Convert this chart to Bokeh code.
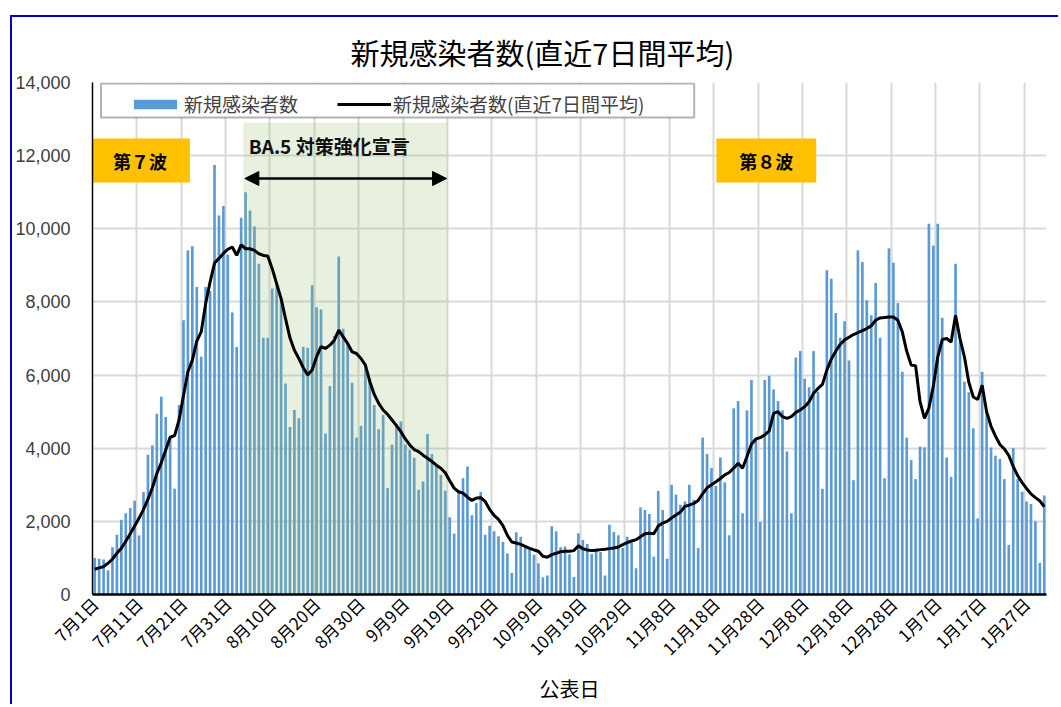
import math
from bokeh.plotting import figure
from bokeh.models import (ColumnDataSource, Range1d, FixedTicker, NumeralTickFormatter,
                          Legend, LegendItem, BoxAnnotation, Arrow, NormalHead)
from bokeh.core.properties import value
from bokeh.embed import file_html
from bokeh.resources import INLINE

JP = "Noto Sans CJK JP"

# daily new cases, 2022-07-01 .. 2023-01-31
cases = [1000, 980, 955, 665, 1290, 1635, 2045, 2225, 2365, 2565,
         1610, 2800, 3820, 4075, 4945, 5410, 4855, 4300, 2890, 5180,
         7500, 9410, 9520, 8410, 6500, 8410, 8300, 11745, 10365, 10620,
         9300, 7710, 6770, 10300, 11000, 10500, 10065, 9045, 7020, 7020,
         8365, 8500, 7970, 5770, 4580, 5045, 4820, 6770, 6745, 8455,
         7855, 7790, 4400, 5700, 7065, 9245, 7270, 6900, 5790, 4290,
         4610, 6300, 5900, 5180, 4520, 4910, 2910, 4100, 4650, 4730,
         4100, 3950, 3740, 2865, 3090, 4390, 3845, 3565, 3270, 2835,
         2110, 1670, 2800, 3180, 3500, 2170, 2500, 2800, 1635, 1880,
         1730, 1590, 1435, 1120, 590, 1700, 1580, 1290, 1230, 1090,
         855, 475, 520, 1865, 1730, 1290, 1310, 1100, 480, 1675,
         1490, 1380, 1110, 1255, 1165, 520, 1910, 1710, 1620, 1270,
         1580, 1410, 720, 2380, 2310, 2200, 1035, 2835, 2310, 980,
         3000, 2730, 2455, 2545, 3000, 2590, 1270, 4290, 3845, 3455,
         2970, 3745, 3065, 1620, 5090, 5290, 2220, 5035, 5865, 4270,
         1980, 5865, 5980, 5610, 5290, 5035, 3910, 2220, 6480, 6655,
         5900, 5670, 6655, 5545, 2890, 8865, 8635, 7700, 7020, 7470,
         6400, 3125, 9410, 9090, 8045, 7635, 8520, 7020, 3180, 9470,
         9070, 7970, 6090, 4290, 3680, 3155, 4045, 4025, 10135, 9545,
         10135, 7565, 3745, 3220, 9045, 6910, 5820, 5530, 4545, 2080,
         6090, 5000, 4020, 3795, 3705, 3155, 1355, 4010, 3150, 2810,
         2545, 2475, 2000, 860, 2710]

# 7-day average
avg7 = [690, 727, 763, 854, 972, 1127, 1263, 1454, 1663, 1872,
        2090, 2327, 2609, 2918, 3309, 3600, 3954, 4300, 4345, 4772,
        5436, 6090, 6409, 6927, 7181, 7954, 8545, 9063, 9190, 9327,
        9440, 9500, 9272, 9560, 9454, 9454, 9409, 9318, 9272, 9254,
        8909, 8500, 8090, 7545, 7018, 6681, 6454, 6200, 6000, 6136,
        6500, 6781, 6727, 6818, 6954, 7227, 7045, 6863, 6636, 6590,
        6454, 6272, 5818, 5472, 5227, 5045, 4927, 4772, 4618, 4454,
        4254, 4090, 3963, 3909, 3809, 3727, 3636, 3536, 3454, 3327,
        3109, 2909, 2809, 2772, 2663, 2572, 2636, 2645, 2545, 2327,
        2163, 2054, 1881, 1618, 1436, 1409, 1372, 1318, 1263, 1218,
        1181, 1045, 1018, 1090, 1127, 1172, 1181, 1181, 1200, 1336,
        1254, 1218, 1200, 1209, 1227, 1236, 1254, 1272, 1300, 1363,
        1418, 1463, 1500, 1581, 1663, 1672, 1663, 1872, 1954, 2000,
        2090, 2172, 2254, 2409, 2445, 2490, 2572, 2754, 2918, 3000,
        3081, 3172, 3272, 3336, 3454, 3590, 3454, 3772, 4109, 4254,
        4290, 4363, 4472, 4954, 5000, 4863, 4818, 4863, 4981, 5045,
        5136, 5272, 5500, 5636, 5745, 6136, 6436, 6654, 6836, 6963,
        7036, 7109, 7163, 7218, 7272, 7345, 7500, 7563, 7572, 7590,
        7590, 7500, 7181, 6650, 6272, 6254, 5272, 4818, 5100, 5700,
        6500, 6972, 7000, 6900, 7636, 7000, 6500, 5800, 5400, 5330,
        5720, 5000, 4600, 4330, 4100, 3980, 3800, 3500, 3250, 3060,
        2900, 2750, 2650, 2560, 2400]

tick_days = [0, 10, 20, 30, 40, 50, 60, 70, 80, 90, 100,
             110, 120, 130, 140, 150, 160, 170, 180, 190, 200, 210]
tick_labels = ["7月1日", "7月11日", "7月21日", "7月31日", "8月10日", "8月20日",
               "8月30日", "9月9日", "9月19日", "9月29日", "10月9日", "10月19日",
               "10月29日", "11月8日", "11月18日", "11月28日", "12月8日", "12月18日",
               "12月28日", "1月7日", "1月17日", "1月27日"]
y_ticks = [0, 2000, 4000, 6000, 8000, 10000, 12000, 14000]

days = list(range(len(cases)))
src = ColumnDataSource(dict(day=days, cases=cases, avg7=avg7))

p = figure(width=1048, height=689, x_range=Range1d(-0.5, len(cases) - 0.5),
           y_range=Range1d(0, 14000), output_backend="svg", toolbar_location=None,
           min_border_left=79, min_border_right=14, min_border_top=65, min_border_bottom=112,
           styles={"margin-left": "10px", "margin-top": "15px",
                   "border-left": "2px solid #0000CC", "border-top": "2px solid #0000CC"})
p.outline_line_color = None
p.background_fill_color = "white"
p.border_fill_color = "white"

# title
p.title.text = "新規感染者数(直近7日間平均)"
p.title.text_font = JP
p.title.text_font_size = "29px"
p.title.text_font_style = "normal"
p.title.text_color = "black"
p.title.align = "left"
p.title.offset = 258
p.title.standoff = 20

# grids
p.ygrid.ticker = FixedTicker(ticks=y_ticks)
p.xgrid.ticker = FixedTicker(ticks=[d + 9.5 for d in tick_days])
for g in (p.xgrid, p.ygrid):
    g.grid_line_color = "#D9D9D9"
    g.grid_line_width = 2

# axes
p.yaxis.ticker = FixedTicker(ticks=y_ticks)
p.yaxis.formatter = NumeralTickFormatter(format="0,0")
p.yaxis.major_label_text_font = "Liberation Sans"
p.yaxis.major_label_text_font_size = "18px"
p.yaxis.major_label_text_color = "#404040"
p.yaxis.axis_line_color = "black"
p.yaxis.axis_line_width = 1.5
p.yaxis.major_label_standoff = 22

p.xaxis.ticker = FixedTicker(ticks=tick_days)
p.xaxis.major_label_overrides = {d: l for d, l in zip(tick_days, tick_labels)}
p.xaxis.major_label_orientation = math.pi / 4
p.xaxis.major_label_text_font = JP
p.xaxis.major_label_text_font_size = "17px"
p.xaxis.major_label_text_color = "black"
p.xaxis.major_label_standoff = 6
p.xaxis.axis_line_color = "black"
p.xaxis.axis_line_width = 2.5
p.xaxis.axis_label = "公表日"
p.xaxis.axis_label_text_font = JP
p.xaxis.axis_label_text_font_size = "20px"
p.xaxis.axis_label_text_font_style = "normal"
p.xaxis.axis_label_text_color = "black"
p.xaxis.axis_label_standoff = 2

for ax in (p.xaxis, p.yaxis):
    ax.major_tick_line_color = None
    ax.minor_tick_line_color = None
    ax.major_tick_out = 0
    ax.major_tick_in = 0
    ax.minor_tick_out = 0

# bars
bars = p.vbar(x="day", top="cases", width=0.6, source=src,
              fill_color="#5B9BD5", line_color=None)

# BA.5 period shading (drawn over bars)
p.quad(left=[33.5], right=[79.5], bottom=[0], top=[12900],
       fill_color="#96B96E", fill_alpha=0.22, line_color=None)

# 7-day average line
line = p.line(x="day", y="avg7", source=src, line_color="black", line_width=3)

# wave boxes
p.quad(left=[-1.06, 140.1], right=[21.45, 162.6], bottom=[11266, 11266], top=[12469, 12469],
       fill_color="#FFC000", line_color=None)
p.text(x=[10.2, 151.35], y=[11867, 11867], text=["第７波", "第８波"],
       text_font=value(JP), text_font_size="18px", text_font_style="bold",
       text_align="center", text_baseline="middle", text_color="black")

# BA.5 label and arrow
p.text(x=[34.73], y=[12277], text=["BA.5 対策強化宣言"],
       text_font=value(JP), text_font_size="19px", text_font_style="bold",
       text_align="left", text_baseline="middle", text_color="#111111")
p.add_layout(Arrow(x_start=79.3, y_start=11375, x_end=33.83, y_end=11375,
                   line_color="black", line_width=2.5,
                   start=NormalHead(size=14, fill_color="black", line_color="black"),
                   end=NormalHead(size=14, fill_color="black", line_color="black")))

# legend box + legend
p.add_layout(BoxAnnotation(left=1.41, right=135.1, top=13973, bottom=13043,
                           fill_color="white", fill_alpha=1,
                           line_color="black", line_width=2))
legend = Legend(items=[LegendItem(label="新規感染者数", renderers=[bars]),
                       LegendItem(label="新規感染者数(直近7日間平均)", renderers=[line])],
                location=(36, 477), orientation="horizontal",
                border_line_color=None, background_fill_alpha=0,
                label_text_font=JP, label_text_font_size="19px",
                glyph_width=54, glyph_height=12, label_height=20,
                padding=6, spacing=39, label_standoff=2, margin=0)
p.add_layout(legend)

open("out.html", "w").write(file_html(p, INLINE))
